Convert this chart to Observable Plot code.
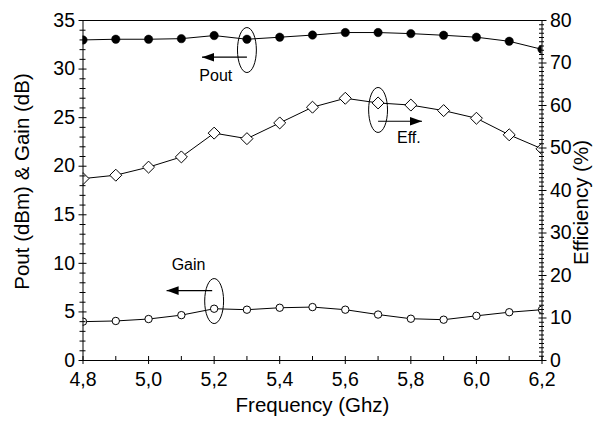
<!DOCTYPE html>
<html><head><meta charset="utf-8">
<script src="https://cdn.jsdelivr.net/npm/d3@7"></script>
<script src="https://cdn.jsdelivr.net/npm/@observablehq/plot@0.6"></script>
<style>
html,body{margin:0;padding:0;background:#fff;}
#chart svg{display:block;}
</style></head><body><div id="chart"></div>
<script>
// ---- data ----
const freq = [4.8, 4.9, 5.0, 5.1, 5.2, 5.3, 5.4, 5.5, 5.6, 5.7, 5.8, 5.9, 6.0, 6.1, 6.2];
const pout = [33.0, 33.07, 33.07, 33.13, 33.45, 33.07, 33.28, 33.5, 33.76, 33.76, 33.65, 33.48, 33.28, 32.86, 32.03];
const gain = [4.0, 4.07, 4.27, 4.67, 5.33, 5.23, 5.43, 5.5, 5.23, 4.73, 4.3, 4.2, 4.6, 4.97, 5.23];
const eff = [42.8, 43.6, 45.5, 47.9, 53.5, 52.2, 55.9, 59.6, 61.7, 60.6, 60.1, 58.8, 57.0, 53.1, 49.8];

const xTicks = [4.8, 5.0, 5.2, 5.4, 5.6, 5.8, 6.0, 6.2];
const xMinorTicks = [4.9, 5.1, 5.3, 5.5, 5.7, 5.9, 6.1];
const leftTicks = [0, 5, 10, 15, 20, 25, 30, 35];
const rightTicks = [0, 10, 20, 30, 40, 50, 60, 70, 80];
const leftMax = 35, rightMax = 80;

// annotations (ellipse around a point, arrow pointing to the axis, label)
const noteLabels = ["Pout", "Eff.", "Gain"];
const noteEllipseX = [5.3, 5.7, 5.2];
const noteEllipseY = [31.96, 25.79, 6.12];
const noteArrowX1 = [5.30, 5.70, 5.194];
const noteArrowX2 = [5.163, 5.834, 5.055];
const noteArrowY = [31.22, 24.63, 7.2];
const noteArrowDir = [180, 0, 180];
const noteLabelX = [5.205, 5.794, 5.122];
const noteLabelY = [29.34, 22.96, 9.88];

// ---- derived tables ----
const k = leftMax / rightMax;
const rows = freq.map((f, i) => ({f, pout: pout[i], gain: gain[i], effL: eff[i] * k}));
const notes = noteLabels.map((t, i) => ({
  t, ex: noteEllipseX[i], ey: noteEllipseY[i],
  x1: noteArrowX1[i], x2: noteArrowX2[i], ay: noteArrowY[i], dir: noteArrowDir[i],
  lx: noteLabelX[i], ly: noteLabelY[i]
}));
const leftMinor = d3.range(0, leftMax + 1).filter(v => v % 5 !== 0);
const rightMinor = d3.range(0, rightMax + 1).filter(v => v % 10 !== 0).map(v => v * k);
const rightMajor = rightTicks.map(v => v * k);

const ellipseSymbol = {draw(ctx, size) {
  const r = Math.sqrt(size / Math.PI), rx = r * 0.42, ry = r, c = 0.5523;
  ctx.moveTo(rx, 0);
  ctx.bezierCurveTo(rx, ry * c, rx * c, ry, 0, ry);
  ctx.bezierCurveTo(-rx * c, ry, -rx, ry * c, -rx, 0);
  ctx.bezierCurveTo(-rx, -ry * c, -rx * c, -ry, 0, -ry);
  ctx.bezierCurveTo(rx * c, -ry, rx, -ry * c, rx, 0);
  ctx.closePath();
}};
const headSymbol = {draw(ctx, size) {
  const r = Math.sqrt(size / Math.PI);
  ctx.moveTo(0, 0);
  ctx.lineTo(-r, -r * 0.36);
  ctx.lineTo(-r, r * 0.36);
  ctx.closePath();
}};

const font = "'Liberation Sans', Arial, Helvetica, sans-serif";
const fmtX = d => d.toFixed(1).replace(".", ",");

const chart = Plot.plot({
  width: 593,
  height: 423,
  marginLeft: 82.5,
  marginRight: 51.5,
  marginTop: 20,
  marginBottom: 63,
  style: {fontFamily: font, fontSize: "19.5px", color: "black", background: "white", overflow: "hidden"},
  x: {domain: [4.8, 6.2]},
  y: {domain: [0, leftMax]},
  marks: [
    // series lines
    Plot.line(rows, {x: "f", y: "pout", stroke: "black", strokeWidth: 1, clip: true}),
    Plot.line(rows, {x: "f", y: "effL", stroke: "black", strokeWidth: 1, clip: true}),
    Plot.line(rows, {x: "f", y: "gain", stroke: "black", strokeWidth: 1, clip: true}),
    // markers
    Plot.dot(rows, {x: "f", y: "pout", r: 4.2, fill: "black", stroke: "black", strokeWidth: 0.5, clip: true}),
    Plot.dot(rows, {x: "f", y: "effL", symbol: "diamond2", r: 5.4, fill: "white", stroke: "black", strokeWidth: 1, clip: true}),
    Plot.dot(rows, {x: "f", y: "gain", r: 3.7, fill: "white", stroke: "black", strokeWidth: 1, clip: true}),
    // annotations
    Plot.dot(notes, {x: "ex", y: "ey", symbol: ellipseSymbol, r: 22.5, fill: "none", stroke: "black", strokeWidth: 1}),
    Plot.link(notes, {x1: "x1", x2: "x2", y1: "ay", y2: "ay", stroke: "black", strokeWidth: 1.2}),
    Plot.dot(notes, {x: "x2", y: "ay", symbol: headSymbol, r: 12, rotate: "dir", fill: "black", stroke: "none"}),
    Plot.text(notes, {x: "lx", y: "ly", text: "t", fontSize: 16, fill: "black"}),
    // frame
    Plot.frame({stroke: "black", strokeWidth: 1}),
    // bottom axis
    Plot.axisX(xTicks, {tickSize: 0, tickPadding: 12, tickFormat: fmtX, label: null, fontSize: 19.5}),
    Plot.axisX(xTicks, {tickSize: 8, dy: -4, fill: "none", label: null}),
    Plot.axisX(xMinorTicks, {tickSize: 4, dy: -4, fill: "none", label: null}),
    // left axis
    Plot.axisY(leftTicks, {anchor: "left", tickSize: 0, tickPadding: 8, label: null, fontSize: 19.5}),
    Plot.axisY(leftTicks, {anchor: "left", tickSize: 8, dx: 4, fill: "none", label: null}),
    Plot.axisY(leftMinor, {anchor: "left", tickSize: 6, dx: 3, fill: "none", label: null}),
    // right axis
    Plot.axisY(rightMajor, {anchor: "right", tickSize: 0, tickPadding: 8, tickFormat: d => Math.round(d / k), label: null, fontSize: 19.5}),
    Plot.axisY(rightMajor, {anchor: "right", tickSize: 8, dx: -4, fill: "none", label: null}),
    Plot.axisY(rightMinor, {anchor: "right", tickSize: 5, dx: -3.5, fill: "none", label: null}),
    // axis titles
    Plot.text(["Frequency (Ghz)"], {frameAnchor: "bottom", textAnchor: "middle", dy: 51, text: d => d, fontSize: 20.5, fill: "black"}),
    Plot.text(["Pout (dBm) & Gain (dB)"], {frameAnchor: "left", textAnchor: "middle", dx: -60.5, dy: -9, rotate: -90, text: d => d, fontSize: 20.5, fill: "black"}),
    Plot.text(["Efficiency (%)"], {frameAnchor: "right", textAnchor: "middle", dx: 39.5, dy: 12, rotate: -90, text: d => d, fontSize: 20.5, fill: "black"})
  ]
});
document.getElementById("chart").appendChild(chart);
</script>
</body></html>
